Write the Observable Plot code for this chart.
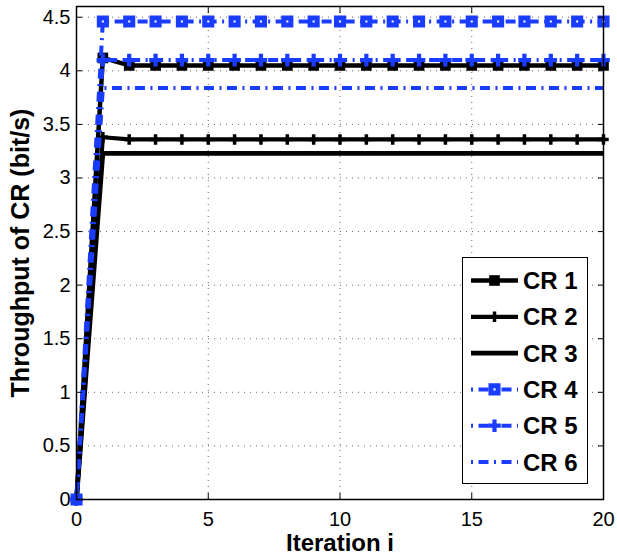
<!DOCTYPE html>
<html><head><meta charset="utf-8">
<script src="https://cdn.jsdelivr.net/npm/d3@7"></script>
<script src="https://cdn.jsdelivr.net/npm/@observablehq/plot@0.6"></script>
<style>
body{margin:0;background:#fff}
#wrap{position:relative;width:617px;height:555px}
#legend{position:absolute;left:0;top:0;pointer-events:none}
</style>
</head><body><div id="wrap"></div>
<script>
const iterations = [0,1,2,3,4,5,6,7,8,9,10,11,12,13,14,15,16,17,18,19,20];
const cr1 = [0,4.12,4.05,4.05,4.05,4.05,4.05,4.05,4.05,4.05,4.05,4.05,4.05,4.05,4.05,4.05,4.05,4.05,4.05,4.05,4.05];
const cr2 = [0,3.38,3.36,3.36,3.36,3.36,3.36,3.36,3.36,3.36,3.36,3.36,3.36,3.36,3.36,3.36,3.36,3.36,3.36,3.36,3.36];
const cr3 = [0,3.23,3.23,3.23,3.23,3.23,3.23,3.23,3.23,3.23,3.23,3.23,3.23,3.23,3.23,3.23,3.23,3.23,3.23,3.23,3.23];
const cr4 = [0,4.46,4.46,4.46,4.46,4.46,4.46,4.46,4.46,4.46,4.46,4.46,4.46,4.46,4.46,4.46,4.46,4.46,4.46,4.46,4.46];
const cr5 = [0,4.10,4.10,4.10,4.10,4.10,4.10,4.10,4.10,4.10,4.10,4.10,4.10,4.10,4.10,4.10,4.10,4.10,4.10,4.10,4.10];
const cr6 = [0,3.84,3.84,3.84,3.84,3.84,3.84,3.84,3.84,3.84,3.84,3.84,3.84,3.84,3.84,3.84,3.84,3.84,3.84,3.84,3.84];
const seriesNames = ["CR 1","CR 2","CR 3","CR 4","CR 5","CR 6"];
const seriesValues = [cr1,cr2,cr3,cr4,cr5,cr6];
const xTicks = [0,5,10,15,20];
const yTicks = [0,0.5,1,1.5,2,2.5,3,3.5,4,4.5];
const xLabel = "Iteration i";
const yLabel = "Throughput of CR (bit/s)";

const blue = "#1a3cff";
const dashDot = "2,5.5,10,5.5";
const styles = [
  {stroke:"#000", sw:4.5, dash:null, symbol:"square", r:6.0, fill:"#000", mstroke:"none", msw:0},
  {stroke:"#000", sw:4.2, dash:null, symbol:"cross", r:4.4, fill:"#000", mstroke:"none", msw:0},
  {stroke:"#000", sw:4.7, dash:null, symbol:null},
  {stroke:blue, sw:4, dash:dashDot, symbol:"square", r:4.0, fill:"#fff", mstroke:blue, msw:5},
  {stroke:blue, sw:4, dash:dashDot, symbol:"cross", r:5.3, fill:blue, mstroke:"none", msw:0},
  {stroke:blue, sw:4, dash:dashDot, symbol:null}
];

const font = "'Liberation Sans', Arial, Helvetica, sans-serif";
const marks = [
  Plot.gridX(xTicks.slice(1,-1), {stroke:"#000", strokeOpacity:0.6, strokeDasharray:"1,5"}),
  Plot.gridY(yTicks.slice(1), {stroke:"#000", strokeOpacity:0.6, strokeDasharray:"1,5"}),
];
seriesNames.forEach((name, i) => {
  const rows = iterations.map((x, j) => ({x, y: seriesValues[i][j], series: name}));
  const s = styles[i];
  marks.push(Plot.line(rows, {x:"x", y:"y", stroke:s.stroke, strokeWidth:s.sw,
    strokeDasharray:s.dash, strokeLinejoin:"miter", strokeLinecap:"butt"}));
  if (s.symbol) marks.push(Plot.dot(rows, {x:"x", y:"y", symbol:s.symbol, r:s.r,
    fill:s.fill, stroke:s.mstroke, strokeWidth:s.msw}));
});
const fmt = d => String(d);
// inward ticks on all four sides
marks.push(
  Plot.axisY(yTicks, {anchor:"left", tickSize:6, dx:6, tickFormat:() => "", stroke:"#000", label:null}),
  Plot.axisY(yTicks, {anchor:"right", tickSize:6, dx:-6, tickFormat:() => "", stroke:"#000", label:null}),
  Plot.axisX(xTicks, {anchor:"bottom", tickSize:6, dy:-6, tickFormat:() => "", stroke:"#000", label:null}),
  Plot.axisX(xTicks, {anchor:"top", tickSize:6, dy:6, tickFormat:() => "", stroke:"#000", label:null}),
  Plot.axisY(yTicks, {anchor:"left", tickSize:0, tickPadding:6, fontSize:20, fill:"#000", label:null, tickFormat:fmt}),
  Plot.axisX(xTicks, {anchor:"bottom", tickSize:0, tickPadding:12, fontSize:20, fill:"#000", label:null, tickFormat:fmt}),
  Plot.frame({stroke:"#000", strokeWidth:1.5}),
  Plot.text([xLabel], {frameAnchor:"bottom", dy:44, textAnchor:"middle", lineAnchor:"middle", fontSize:24, fontWeight:"bold", fill:"#000"}),
  Plot.text([yLabel], {frameAnchor:"left", dx:-56, rotate:-90, textAnchor:"middle", lineAnchor:"middle", fontSize:25, fontWeight:"bold", fill:"#000"})
);

const chart = Plot.plot({
  width:617, height:555,
  marginLeft:76, marginRight:14, marginTop:6, marginBottom:56,
  x:{domain:[0,20], axis:null},
  y:{domain:[0,4.6], axis:null},
  style:{fontFamily:font, background:"#fff", color:"#000", overflow:"visible"},
  marks
});
const wrap = document.getElementById("wrap");
wrap.appendChild(chart);

// legend overlay
const svg = d3.select(wrap).append("svg").attr("id","legend")
  .attr("width",617).attr("height",555);
const lx = 462.5, ly = 257.5, lw = 125, lh = 226;
svg.append("rect").attr("x",lx).attr("y",ly).attr("width",lw).attr("height",lh)
  .attr("fill","#fff").attr("stroke","#000").attr("stroke-width",1);
const symMap = {square:d3.symbolSquare, cross:d3.symbolCross};
seriesNames.forEach((name, i) => {
  const s = styles[i];
  const cy = 280.5 + i*36.3;
  svg.append("line").attr("x1",471).attr("x2",518).attr("y1",cy).attr("y2",cy)
    .attr("stroke",s.stroke).attr("stroke-width",s.sw)
    .attr("stroke-dasharray",s.dash).attr("stroke-linecap","butt");
  if (s.symbol) {
    svg.append("path").attr("transform",`translate(494.5,${cy})`)
      .attr("d", d3.symbol(symMap[s.symbol], Math.PI*s.r*s.r)())
      .attr("fill",s.fill).attr("stroke",s.mstroke).attr("stroke-width",s.msw);
  }
  svg.append("text").attr("x",523).attr("y",cy+8.5).text(name)
    .attr("font-family",font).attr("font-size",24).attr("font-weight","bold").attr("fill","#000");
});
</script>
</body></html>
